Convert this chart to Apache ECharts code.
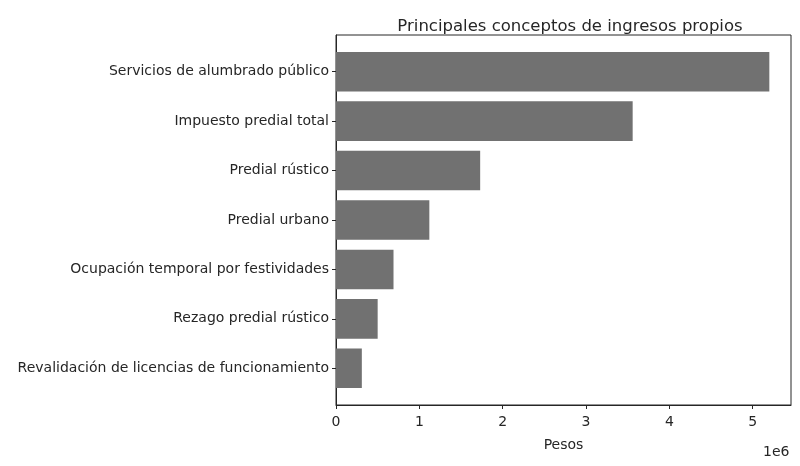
<!DOCTYPE html>
<html>
<head>
<meta charset="utf-8">
<script src="https://cdn.jsdelivr.net/npm/echarts@6/dist/echarts.min.js"></script>
<style>html,body{margin:0;padding:0;background:#fff;}#c{width:800px;height:466px;}</style>
</head>
<body>
<div id="c"></div>
<script>
const categories = [
  "Servicios de alumbrado público",
  "Impuesto predial total",
  "Predial rústico",
  "Predial urbano",
  "Ocupación temporal por festividades",
  "Rezago predial rústico",
  "Revalidación de licencias de funcionamiento"
];
const values = [5200000, 3560000, 1730000, 1120000, 690000, 500000, 310000];
const xTicks = [0, 1, 2, 3, 4, 5];
const titleText = "Principales conceptos de ingresos propios";
const xName = "Pesos";
const xOffsetText = "1e6";

const xMax = 5460000;
const font = "DejaVu Sans";
const ink = "#262626";

const chart = echarts.init(document.getElementById('c'), null, {renderer: 'canvas'});
chart.setOption({
  animation: false,
  backgroundColor: '#fff',
  textStyle: {fontFamily: font},
  title: [
    {text: titleText, left: 565, top: 13, textAlign: 'center',
     textStyle: {fontFamily: font, fontSize: 16.5, fontWeight: 'normal', color: ink}},
    {text: xOffsetText, left: 758, top: 440,
     textStyle: {fontFamily: font, fontSize: 14, fontWeight: 'normal', color: ink}}
  ],
  grid: [
    {left: 336, right: 9, top: 35, height: 370, show: true, borderColor: ink, borderWidth: 1, backgroundColor: 'transparent', containLabel: false},
    {left: 336, right: 9, top: 47, height: 346, containLabel: false}
  ],
  xAxis: [
    {gridIndex: 0, type: 'value', min: 0, max: xMax, interval: 1000000,
     axisLine: {show: true, lineStyle: {color: ink}},
     axisTick: {show: true, length: 4, lineStyle: {color: ink}},
     splitLine: {show: false},
     axisLabel: {color: ink, fontSize: 14, margin: 10, fontFamily: font, showMaxLabel: false,
       formatter: v => { const i = v / 1000000; return xTicks.includes(i) ? String(i) : ''; }},
     name: xName, nameLocation: 'middle', nameGap: 33,
     nameTextStyle: {color: ink, fontSize: 14, fontFamily: font}},
    {gridIndex: 1, type: 'value', min: 0, max: xMax, show: false}
  ],
  yAxis: [
    {gridIndex: 0, type: 'value', position: 'right', min: 0, max: 1,
     axisLine: {show: true, lineStyle: {color: ink}},
     axisTick: {show: false}, axisLabel: {show: false}, splitLine: {show: false}},
    {gridIndex: 1, type: 'category', data: categories, inverse: true,
     axisLine: {show: false},
     axisTick: {show: true, alignWithLabel: true, length: 4, lineStyle: {color: ink}},
     axisLabel: {color: ink, fontSize: 14, margin: 7, fontFamily: font}}
  ],
  series: [{
    type: 'bar', xAxisIndex: 1, yAxisIndex: 1,
    data: values, barWidth: '80%',
    itemStyle: {color: '#717171'}
  }]
});
</script>
</body>
</html>
